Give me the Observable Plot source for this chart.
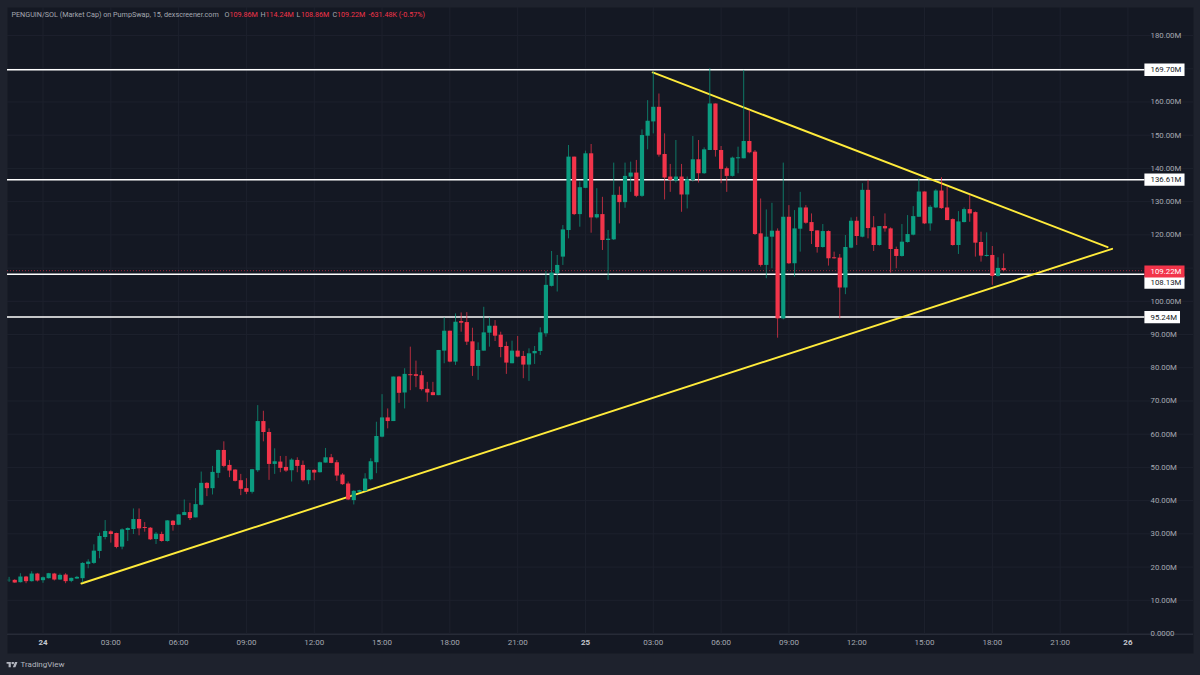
<!DOCTYPE html>
<html><head><meta charset="utf-8">
<script src="https://cdn.jsdelivr.net/npm/d3@7"></script>
<script src="https://cdn.jsdelivr.net/npm/@observablehq/plot@0.6"></script>
<style>html,body{margin:0;padding:0;background:#1e222d}svg{display:block}</style>
</head><body>
<div id="chart"></div>
<script>
const firstSlot = -6; // 15-minute slots counted from 24th 00:00
const opens = [15.9,16.0,15.3,17.0,15.6,17.9,15.9,16.5,17.9,16.1,17.6,15.7,16.4,16.5,
20.8,21.1,24.7,28.9,30.6,30.1,26.0,31.0,31.3,34.3,31.9,31.7,28.3,29.8,27.7,33.8,32.6,35.5,36.4,34.8,38.6,45.2,43.6,48.2,55.1,50.6,49.2,46,43.6,42.5,49,63.8,60.5,50.9,51.6,50,49,52.1,
50.6,46,49.1,48.4,51.3,52.9,51.4,47.7,45,40.0,42.5,42.8,46.3,51.4,59.1,64.9,63.8,77.2,72.4,77.9,77.9,77.6,73.5,72.5,71.6,85,91,81.7,93.9,93.6,87.8,80.4,85,90.4,92.5,89.8,86.4,81.2,85,83.4,80.8,84.2,84.9,
90.2,104.5,108.3,113.3,121.3,143.4,126.1,134,144.4,125.1,126.1,118.3,118.5,131.9,129.7,137.4,138.6,131.6,149.7,154,158.4,144.2,137.4,136.2,137.4,132,136.4,142.6,138.4,145.4,159.4,145.4,139.9,137.6,142.9,142.9,148.1,144.9,120.3,110.8,119.3,121.1,94.7,125.3,111.3,
121.7,128.1,123.7,121.2,116.2,121,113.1,113,104,116,124.1,119.3,133.4,122.1,116.8,122.5,121.8,115.6,113.5,117.7,119.9,125.3,132.9,123.3,128.1,133.2,128.1,124.6,116.8,123.7,127.6,126.7,117.7,113.5,113.8,107.5,109.86];
const closes = [16.0,15.2,17.0,15.6,17.9,15.8,16.8,18.0,16.1,17.5,15.6,16.6,16.9,21.1,
21.5,24.8,29.2,30.7,29.8,25.9,31.2,31.6,34.3,31.5,31.6,28.2,29.9,27.7,33.9,32.5,35.7,36.4,34.6,38.8,45.2,43.6,48.5,55.1,50.3,48.9,45.8,43.4,42.5,49.3,63.8,60.5,50.9,51.7,49.7,48.9,52.2,50.3,
46.0,49.1,48.3,51.4,52.9,51.2,47.4,44.8,40.2,42.8,43,46.5,51.7,59.3,64.9,63.8,77.2,72.3,78,77.6,77.4,73.4,72.4,71.6,85.2,91,81.7,93.7,93.4,87.7,80.4,85.2,90.5,92.5,89.5,86.1,81.4,85,83.2,80.8,84.2,84.9,90.5,
104.8,108.5,110.8,121.5,143.4,126.1,134.2,144.4,125.1,126.1,118.3,118.7,131.9,129.7,137.6,138.6,131.6,149.9,154.2,158.4,144,137.1,136.4,137.4,132,136.6,142.6,138.4,145.6,159.4,145.4,139.7,137.6,143.1,143.2,148.1,144.7,120.1,110.8,119.3,121.1,94.7,125.3,111.3,121.8,
128.1,123.5,121,116.2,121,112.8,112.8,104,116.2,124.1,119.5,133.4,121.9,116.8,122.5,121.8,115.6,113.5,117.8,120.1,125.5,132.9,123.3,128.3,133.2,127.9,124.3,116.8,123.9,127.6,126.3,117.5,113.6,113.8,107.5,109.9,109.22];
const highs = [16.9,16.2,18.0,17.2,18.6,18.1,17.0,18.1,18.1,17.9,18.0,16.7,17.2,21.3,
22.2,26.7,30.2,34.0,30.9,30.2,31.5,31.8,37.5,37.5,33.4,31.9,30.4,30.5,34,34,35.8,40.2,39.2,43.6,48.6,45.4,50.3,55.2,57.7,52.1,49.3,47.9,46.6,49.4,68.6,66.9,61.6,55.6,53.3,53.3,52.6,52.9,
51.9,49.3,49.3,51.6,55.7,53.9,52.1,48.1,45.6,43,43.1,48.1,52.6,63.6,71.9,67.6,77.2,77.4,79.7,86.2,82,78.9,75.6,75.6,85.2,95,91,96.2,96.5,96.6,91.9,87.5,98.2,95,94.2,90.7,87.7,88,89.4,84.9,85.7,86.4,92,
109,115,113.8,122.8,146.9,143.4,135.9,145.2,147.2,133.9,131.3,121.3,141.6,134.4,141.6,141.9,142.4,151.6,160.4,169,162.4,150.4,141.2,148.4,141.2,137.4,149.6,148.4,146.2,170,159.4,146.6,140.4,143.4,146.4,169.5,157.4,145.4,130.8,127.5,129.5,121.8,141.6,128.8,127.3,
132.8,128.8,126.3,121.2,123.1,121.2,114.8,114.1,119.8,125.1,125.3,135.4,136.4,125.5,122.5,126.3,122.1,116.3,123.1,125.8,128.5,136.9,132.9,128.8,133.6,137.2,134.4,124.8,127,128.1,131.9,126.9,120.8,120.6,116.5,113.1,114.24];
const lows = [15.4,15.1,15.2,15.0,15.5,15.5,15.1,16.4,15.8,16.0,15.0,15.3,16.3,15.2,
19.5,20.8,22.5,28.2,27.2,25.5,25.2,27.7,29.8,29.4,30.5,28.0,26.8,27.5,27.5,30.8,32.5,35.5,34.0,34.8,38.4,41.2,41.7,46.7,49.9,46.9,45.6,41.5,41.8,42.0,48.5,57.7,46.1,47.9,48.4,48.5,45.6,48.4,
45.6,44.8,46.0,48.3,51.3,51.1,45.8,44.6,40.0,38.7,42.4,42.7,46.0,48.1,58.9,61.6,63.8,69.3,67.6,73.1,74,73,69.6,71.6,71.6,81.2,81.5,80.7,90.7,86.7,77.4,76.2,85,86.2,87.9,83,78,81.2,83,76.7,75.9,81,83.7,
89.2,104.3,102.8,110.8,118.8,125.8,122.3,133.9,120.5,124.8,115.3,106.3,118.3,123.3,128,132.8,131.2,131.3,145.6,150.4,143.4,130.5,132.8,135.6,126.8,127.8,135.9,135.6,138.2,145.4,143.4,135.4,132.8,137.4,138.4,142.9,144.4,119.8,110.3,106.8,109.8,88.9,94.4,111.1,107.3,
114.8,123.2,117.1,114.5,116,110.6,112.7,94.7,102,115.8,116.8,119.1,118.8,115,116.6,120.8,108.5,109.8,113.3,117.5,119.7,125.3,123.1,121.1,127.9,127.7,124.3,116.6,114.1,123.6,123.8,113.3,111.8,113.3,104.8,107.3,108.86];

const hourTicks = [12,24,36,48,60,72,84,108,120,132,144,156,168,180];
const hourLabels = ["03:00","06:00","09:00","12:00","15:00","18:00","21:00","03:00","06:00","09:00","12:00","15:00","18:00","21:00"];
const dayTicks = [0,96,192];
const dayLabels = ["24","25","26"];
const gridPrices = [0,10,20,30,40,50,60,70,80,90,100,110,120,130,140,150,160,170,180];
const axisPrices = [0,10,20,30,40,50,60,70,80,90,100,120,130,140,150,160,180];
const levels = [169.70,136.61,108.13,95.24];
const levelLabels = ["169.70M","136.61M","108.13M","95.24M"];
const levelBadgeAt = [169.70,136.61,105.6,95.24];
const levelBadgeEnd = [202.1,202.1,202.1,201.3];
const lastPrice = 109.22, lastBadgeAt = 109.0, lastLabel = "109.22M";
const riseLine = {slot:[6.8,189.2], price:[15.05,115.8]};
const fallLine = {slot:[107.9,188.4], price:[168.9,116.3]};
const xDomain = [-6.283,203.6], yDomain = [-0.3,188.44];
const badgeStart = 195.0, badgeText = 196.0;

const C = {frame:"#1e222d", pane:"#141823", grid:"#1d212d", sep:"#272b37", up:"#0b9c80", down:"#f2344a", text:"#a5a8b1", white:"#ffffff", yellow:"#ffeb3b"};
const font = "Roboto, 'Noto Sans', sans-serif";

const candles = opens.map((o,i)=>({slot:i+firstSlot,open:o,close:closes[i],high:highs[i],low:lows[i],color:closes[i]>=o?C.up:C.down}));
const lineRows = l => l.slot.map((s,i)=>({slot:s,price:l.price[i]}));
const levelRows = levels.map((v,i)=>({v,label:levelLabels[i],at:levelBadgeAt[i],end:levelBadgeEnd[i]}));

const header = [
  {t:"PENGUIN/SOL (Market Cap) on PumpSwap, 15, dexscreener.com",dx:4,c:C.text},
  {t:"O",dx:217,c:C.text},{t:"109.86M",dx:222,c:C.down},
  {t:"H",dx:253,c:C.text},{t:"114.24M",dx:258,c:C.down},
  {t:"L",dx:289,c:C.text},{t:"108.86M",dx:293.5,c:C.down},
  {t:"C",dx:325,c:C.text},{t:"109.22M",dx:329.5,c:C.down},
  {t:"-631.48K (-0.57%)",dx:361,c:C.down}
];
const logo = "data:image/svg+xml,"+encodeURIComponent('<svg xmlns="http://www.w3.org/2000/svg" viewBox="0 4 36 18"><path fill="#b2b5be" d="M14 22H7V11H0V4h14v18zM28 22h-8l7.5-18h8L28 22z"/><circle fill="#b2b5be" cx="20" cy="8" r="4"/></svg>');

const plot = Plot.plot({
  width:1200, height:675, marginLeft:7, marginRight:7, marginTop:7, marginBottom:22,
  style:{background:C.frame, fontFamily:font},
  x:{domain:xDomain, axis:null},
  y:{domain:yDomain, range:[634,7], axis:null},
  marks:[
    Plot.frame({fill:C.pane, stroke:null}),
    Plot.ruleY(gridPrices,{stroke:C.grid, strokeWidth:1}),
    Plot.ruleX([...dayTicks,...hourTicks],{y1:yDomain[0], y2:yDomain[1], stroke:C.grid, strokeWidth:1}),
    Plot.ruleY([yDomain[0]],{stroke:C.sep, strokeWidth:1}),
    Plot.ruleY(levelRows,{y:"v", x1:xDomain[0], x2:badgeStart, stroke:C.white, strokeWidth:1.5}),
    Plot.ruleY([lastPrice],{x1:xDomain[0], x2:badgeStart, stroke:C.down, strokeWidth:1, strokeDasharray:"1,2", strokeOpacity:.6}),
    Plot.line(lineRows(riseLine),{x:"slot", y:"price", stroke:C.yellow, strokeWidth:1.9}),
    Plot.line(lineRows(fallLine),{x:"slot", y:"price", stroke:C.yellow, strokeWidth:1.9}),
    Plot.ruleX(candles,{x:"slot", y1:"low", y2:"high", stroke:"color", strokeWidth:1, strokeOpacity:.72}),
    Plot.ruleX(candles,{x:"slot", y1:"open", y2:"close", stroke:"color", strokeWidth:4.2}),
    Plot.axisY(axisPrices,{anchor:"right", tickSize:0, tickPadding:0, dx:-43, fill:C.text, fontSize:7.8,
      tickFormat:v=>v===0?"0.0000":d3.format(".2f")(v)+"M", label:null}),
    Plot.axisX(hourTicks,{anchor:"bottom", tickSize:0, tickPadding:0, dy:-14, fontSize:8, fill:C.text,
      tickFormat:(v,i)=>hourLabels[i], label:null}),
    Plot.axisX(dayTicks,{anchor:"bottom", tickSize:0, tickPadding:0, dy:-14, fontSize:8, fontWeight:700, fill:"#c4c7ce",
      tickFormat:(v,i)=>dayLabels[i], label:null}),
    Plot.ruleY(levelRows,{y:"at", x1:badgeStart, x2:"end", stroke:C.white, strokeWidth:12.3}),
    Plot.text(levelRows,{y:"at", x:badgeText, text:"label", textAnchor:"start", fill:"#131722", fontSize:7.8}),
    Plot.ruleY([lastBadgeAt],{x1:badgeStart, x2:202.1, stroke:C.down, strokeWidth:12}),
    Plot.text([lastLabel],{y:[lastBadgeAt], x:[badgeText], text:d=>d, textAnchor:"start", fill:"#ffffff", fontSize:7.8}),
    ...header.map(h=>Plot.text([h.t],{text:d=>d, frameAnchor:"top-left", textAnchor:"start", lineAnchor:"middle", dx:h.dx, dy:7, fill:h.c, fontSize:7.2})),
    Plot.text(["TradingView"],{text:d=>d, frameAnchor:"bottom-left", textAnchor:"start", lineAnchor:"middle", dx:13, dy:11, fill:"#b2b5be", fontSize:8}),
    Plot.image([0],{src:[logo], frameAnchor:"bottom-left", width:11.5, height:6, dx:4.6, dy:11})
  ]
});
document.getElementById("chart").append(plot);
</script>
</body></html>
